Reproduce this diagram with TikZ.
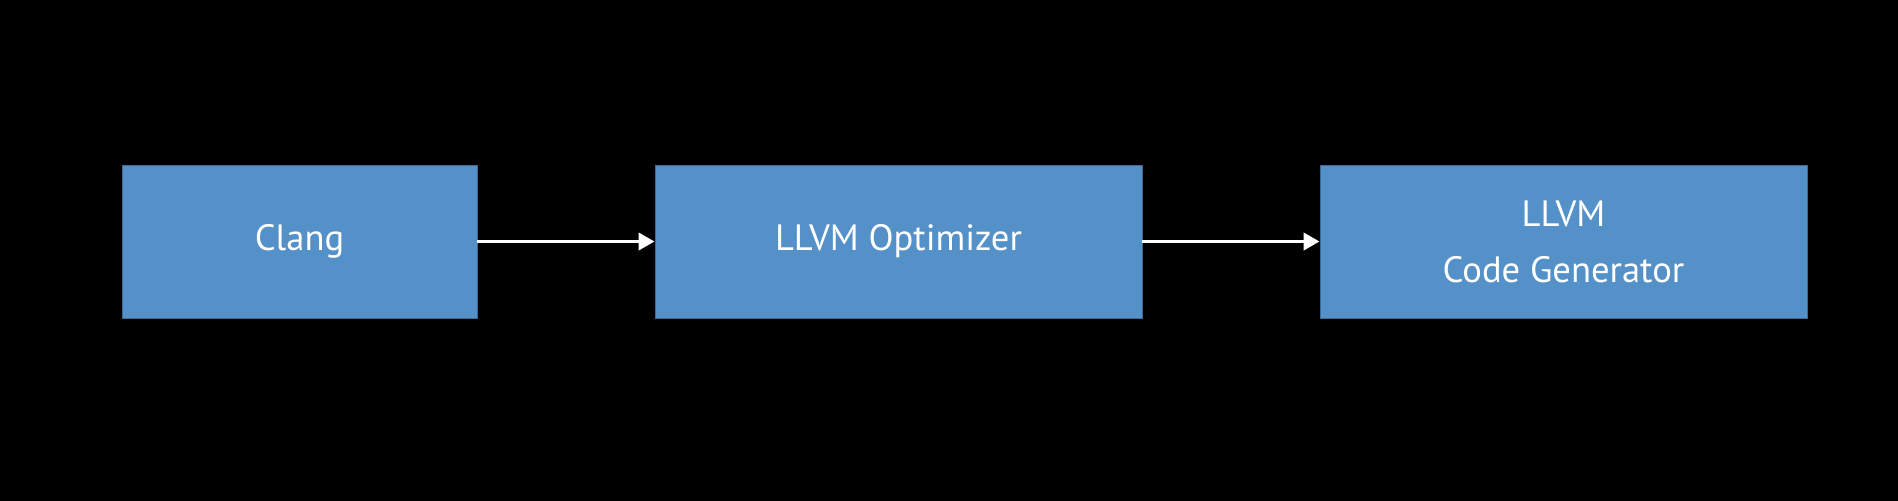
\documentclass[tikz,border=0pt]{standalone}
\usepackage{fontspec}
\setmainfont{PT Sans}
\usetikzlibrary{arrows.meta}
\definecolor{boxblue}{RGB}{84,145,200}
\definecolor{boxedge}{RGB}{62,104,150}
\begin{document}
\begin{tikzpicture}[x=0.5pt,y=-0.5pt,
  stage/.style={draw=boxedge,line width=0.4pt,fill=boxblue,text=white,font=\fontsize{18.3}{28}\selectfont,align=center,inner sep=0pt},
  flow/.style={draw=white,line width=1.9pt,-{Triangle[length=8pt,width=8.5pt]}}]
\useasboundingbox (0,0) rectangle (1898,500);
\fill[black] (-10,-10) rectangle (1908,510);
\node[stage,minimum width=355*0.5pt,minimum height=153*0.5pt] (clang) at (299.5,241.5) {Clang};
\node[stage,minimum width=487*0.5pt,minimum height=153*0.5pt] (opt) at (898.5,241.5) {LLVM Optimizer};
\node[stage,minimum width=487*0.5pt,minimum height=153*0.5pt] (cg) at (1563.5,241.5) {LLVM\\Code Generator};
\draw[flow] (clang.east) -- (opt.west);
\draw[flow] (opt.east) -- (cg.west);
\end{tikzpicture}
\end{document}
